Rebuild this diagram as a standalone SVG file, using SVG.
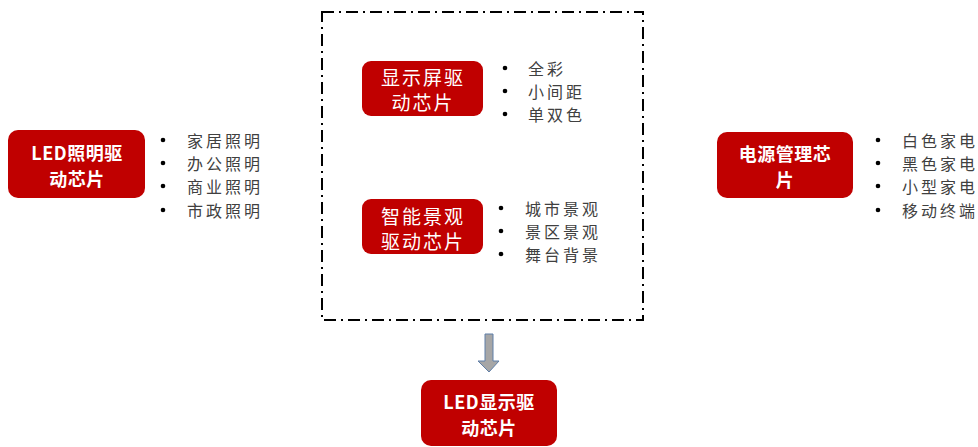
<svg xmlns="http://www.w3.org/2000/svg" width="978" height="447" viewBox="0 0 978 447">
<style>
.box{fill:#c00000;}
.lb{fill:#fff;font-family:"Microsoft YaHei","Noto Sans CJK SC",sans-serif;font-size:18px;text-anchor:middle;dominant-baseline:central;}
.bold{font-weight:bold;letter-spacing:0.5px;}
.reg{font-size:19px;letter-spacing:2px;}
.it{fill:#404040;font-family:"Noto Sans CJK SC",sans-serif;font-size:16px;letter-spacing:3px;dominant-baseline:central;}
.dot{fill:#000;}
</style>
<rect width="978" height="447" fill="#fff"/>
<g id="frame">
<rect x="322" y="12" width="321" height="308" fill="none" stroke="#000" stroke-width="2" stroke-dasharray="12 5 2 5"/>
</g>
<g id="connectors">
<path d="M485,334 H493 V361 H499 L489,372 L478,361 H485 Z" fill="#a6a6a6" stroke="#5f7fa8" stroke-width="1"/>
</g>
<g id="led-lighting">
<rect class="box" x="8" y="130" width="137" height="68" rx="10"/>
<text class="lb bold" x="77" y="152">LED照明驱</text>
<text class="lb bold" x="77" y="178">动芯片</text>
<circle class="dot" cx="163" cy="140" r="2.3"/><text class="it" x="187" y="140">家居照明</text>
<circle class="dot" cx="163" cy="163" r="2.3"/><text class="it" x="187" y="163">办公照明</text>
<circle class="dot" cx="163" cy="186" r="2.3"/><text class="it" x="187" y="186">商业照明</text>
<circle class="dot" cx="163" cy="210" r="2.3"/><text class="it" x="187" y="210">市政照明</text>
</g>
<g id="display-driver">
<rect class="box" x="362" y="61" width="121" height="55" rx="9"/>
<text class="lb reg" x="423" y="76">显示屏驱</text>
<text class="lb reg" x="423" y="101">动芯片</text>
<circle class="dot" cx="505" cy="68" r="2.3"/><text class="it" x="528" y="68">全彩</text>
<circle class="dot" cx="505" cy="91" r="2.3"/><text class="it" x="528" y="91">小间距</text>
<circle class="dot" cx="505" cy="114" r="2.3"/><text class="it" x="528" y="114">单双色</text>
</g>
<g id="landscape-driver">
<rect class="box" x="362" y="199" width="121" height="55" rx="9"/>
<text class="lb reg" x="423" y="215">智能景观</text>
<text class="lb reg" x="423" y="240">驱动芯片</text>
<circle class="dot" cx="501" cy="208" r="2.3"/><text class="it" x="525" y="208">城市景观</text>
<circle class="dot" cx="501" cy="231" r="2.3"/><text class="it" x="525" y="231">景区景观</text>
<circle class="dot" cx="501" cy="254" r="2.3"/><text class="it" x="525" y="254">舞台背景</text>
</g>
<g id="power-mgmt">
<rect class="box" x="717" y="132" width="136" height="66" rx="10"/>
<text class="lb bold" x="785" y="153">电源管理芯</text>
<text class="lb bold" x="785" y="179">片</text>
<circle class="dot" cx="878" cy="140" r="2.3"/><text class="it" x="902" y="140">白色家电</text>
<circle class="dot" cx="878" cy="163" r="2.3"/><text class="it" x="902" y="163">黑色家电</text>
<circle class="dot" cx="878" cy="186" r="2.3"/><text class="it" x="902" y="186">小型家电</text>
<circle class="dot" cx="878" cy="210" r="2.3"/><text class="it" x="902" y="210">移动终端</text>
</g>
<g id="led-display">
<rect class="box" x="421" y="380" width="136" height="66" rx="10"/>
<text class="lb bold" x="489" y="401">LED显示驱</text>
<text class="lb bold" x="489" y="427">动芯片</text>
</g>
</svg>
